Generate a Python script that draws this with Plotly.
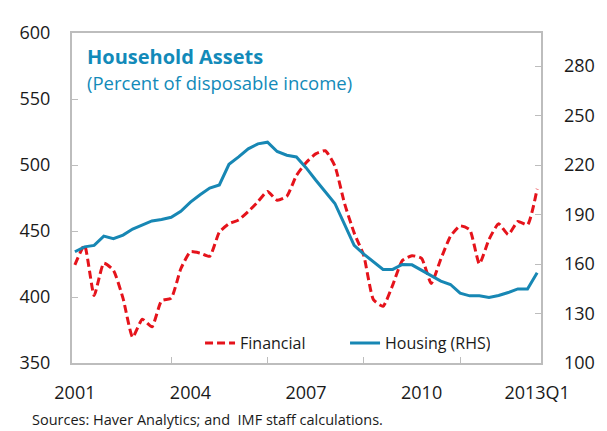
import plotly.graph_objects as go

quarters = [f"{y}Q{q}" for y in range(2001, 2014) for q in range(1, 5)][:49]

financial = [424.3, 439.2, 401.1, 425.6, 420.2, 399.0, 369.5, 383.1, 377.4, 397.2,
             399.1, 421.4, 434.3, 433.2, 430.8, 449.1, 455.5, 458.4, 464.7, 472.1,
             480.0, 473.3, 476.2, 492.0, 501.7, 508.4, 510.8, 499.2, 470.8, 448.6,
             431.3, 398.0, 393.0, 409.0, 427.6, 431.3, 429.3, 410.3, 428.8, 446.0,
             453.9, 451.0, 425.1, 443.6, 455.5, 447.3, 457.2, 454.7, 481.9]

housing = [167.4, 170.4, 171.3, 176.9, 175.3, 177.5, 181.2, 183.8, 186.1, 187.0,
           188.3, 191.9, 197.5, 202.0, 206.0, 207.9, 220.4, 224.9, 229.8, 232.8,
           233.8, 228.2, 225.9, 224.9, 218.4, 210.9, 203.6, 196.7, 184.0, 171.3,
           166.0, 161.1, 156.7, 156.7, 159.7, 159.5, 156.1, 152.8, 149.6, 147.6,
           142.3, 140.7, 140.7, 139.7, 140.9, 142.7, 144.9, 144.9, 154.7]

x_idx = list(range(len(quarters)))
xtick_vals = [0, 12, 24, 36, 48]
xtick_text = ["2001", "2004", "2007", "2010", "2013Q1"]
left_ticks = [350, 400, 450, 500, 550, 600]
right_ticks = [100, 130, 160, 190, 220, 250, 280]

RED = "#e5131b"
BLUE = "#1787b4"
TITLE_BLUE = "#128ab9"
GRAY = "#bdbdbd"
FONT = "Open Sans"

fig = go.Figure()
fig.add_trace(go.Scatter(x=x_idx, y=financial, name="Financial", mode="lines",
                         line=dict(color=RED, width=3, dash="8px,4px", shape="spline", smoothing=0.5),
                         text=quarters, yaxis="y"))
fig.add_trace(go.Scatter(x=x_idx, y=housing, name="Housing (RHS)", mode="lines",
                         line=dict(color=BLUE, width=3),
                         text=quarters, yaxis="y2"))

fig.update_layout(
    width=599, height=423,
    margin=dict(l=56, r=56, t=18, b=68),
    paper_bgcolor="white", plot_bgcolor="white",
    font=dict(family=FONT, size=17, color="#1a1a1a"),
    showlegend=True,
    legend=dict(orientation="h", x=0.273, y=0.06, xanchor="left", yanchor="middle",
                bgcolor="rgba(0,0,0,0)", font=dict(size=16, color="#1a1a1a"),
                entrywidth=100, entrywidthmode="pixels", tracegroupgap=0),
    xaxis=dict(range=[-0.3, 48.4], tickmode="array", tickvals=xtick_vals, ticktext=xtick_text,
               ticks="", showgrid=False, zeroline=False, showline=True, linecolor=GRAY,
               linewidth=2, mirror=True, ticklabelstandoff=12,
               tickfont=dict(size=18),
               minor=dict(tickmode="array", tickvals=[10, 20, 30, 40], ticks="inside",
                          ticklen=6, tickcolor=GRAY, tickwidth=1, showgrid=False)),
    yaxis=dict(range=[350, 600], tickmode="array", tickvals=left_ticks, ticks="inside",
               ticklen=6, tickcolor=GRAY, showgrid=False, zeroline=False, showline=True,
               linecolor=GRAY, linewidth=2, mirror=True, ticklabelstandoff=16,
               tickfont=dict(size=18)),
    yaxis2=dict(range=[100, 300], tickmode="array", tickvals=right_ticks, ticks="inside",
                ticklen=6, tickcolor=GRAY, overlaying="y", side="right", showgrid=False,
                zeroline=False, showline=False, ticklabelstandoff=22,
                tickfont=dict(size=18)),
    annotations=[
        dict(text="<b>Household Assets</b>", xref="paper", yref="paper", x=0.028, y=0.93,
             xanchor="left", yanchor="middle", showarrow=False,
             font=dict(size=20, color=TITLE_BLUE, family=FONT)),
        dict(text="(Percent of disposable income)", xref="paper", yref="paper", x=0.028, y=0.85,
             xanchor="left", yanchor="middle", showarrow=False,
             font=dict(size=18.5, color=TITLE_BLUE, family=FONT)),
        dict(text="Sources: Haver Analytics; and  IMF staff calculations.", xref="paper", yref="paper",
             x=-0.09, y=-0.172, xanchor="left", yanchor="middle", showarrow=False,
             font=dict(size=14.5, color="#1a1a1a", family=FONT)),
    ],
)

fig.write_html("out.html")
